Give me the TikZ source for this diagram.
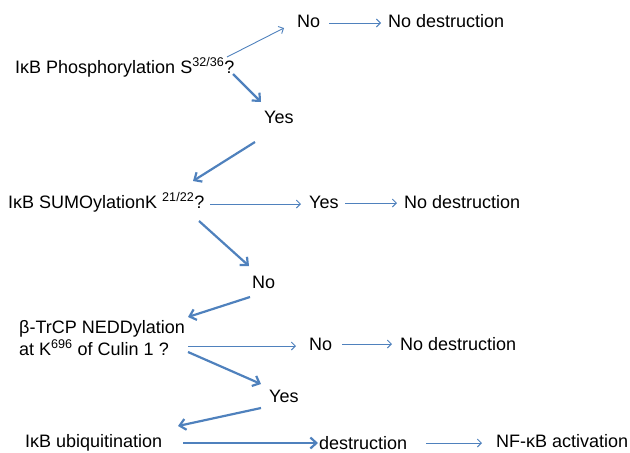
\documentclass[tikz,border=0pt]{standalone}
\usepackage{fontspec}
\setmainfont{Liberation Sans}
\usetikzlibrary{arrows.meta}
\definecolor{arrowblue}{RGB}{79,129,189}
\tikzset{
  lbl/.style={anchor=base west, inner sep=0pt, font=\fontsize{18}{21}\selectfont, text=black},
  thin/.style={draw=arrowblue, line width=0.9pt, -{Straight Barb[length=4pt,width=8pt]}},
  thick/.style={draw=arrowblue, line width=2.2pt, -{Straight Barb[length=6pt,width=11pt]}},
}
\begin{document}
\begin{tikzpicture}[x=1pt,y=-1pt]
\useasboundingbox (0,0) rectangle (630,453);
% labels
\node[lbl] (q1) at (15,73) {IκB Phosphorylation S\textsuperscript{32/36}?};
\node[lbl] (no1) at (297,27) {No};
\node[lbl] (nd1) at (388,27) {No destruction};
\node[lbl] (yes1) at (264,123) {Yes};
\node[lbl] (q2) at (8,208) {IκB SUMOylationK \textsuperscript{21/22}?};
\node[lbl] (yes2) at (309,208) {Yes};
\node[lbl] (nd2) at (404,208) {No destruction};
\node[lbl] (no2) at (252,288) {No};
\node[lbl] (q3a) at (19,333) {β-TrCP NEDDylation};
\node[lbl] (q3b) at (19,355) {at K\textsuperscript{696} of Culin 1 ?};
\node[lbl] (no3) at (309,350) {No};
\node[lbl] (nd3) at (400,350) {No destruction};
\node[lbl] (yes3) at (269,402) {Yes};
\node[lbl] (ub) at (25,447) {IκB ubiquitination};
\node[lbl] (de) at (319,449) {destruction};
\node[lbl] (nf) at (496,447) {NF-κB activation};
% connector end points
\coordinate (a1s) at (227,57);  \coordinate (a1e) at (284,28);
\coordinate (a2s) at (233,74);  \coordinate (a2e) at (261,102);
\coordinate (a3s) at (329,23);  \coordinate (a3e) at (381,23);
\coordinate (a4s) at (255,142); \coordinate (a4e) at (193,181);
\coordinate (a5s) at (210,204); \coordinate (a5e) at (301,204);
\coordinate (a6s) at (345,203); \coordinate (a6e) at (397,203);
\coordinate (a7s) at (199,221); \coordinate (a7e) at (249,266);
\coordinate (a8s) at (250,297); \coordinate (a8e) at (188,317);
\coordinate (a9s) at (188,346); \coordinate (a9e) at (296,346);
\coordinate (a10s) at (342,344); \coordinate (a10e) at (392,344);
\coordinate (a11s) at (188,352); \coordinate (a11e) at (261,384);
\coordinate (a12s) at (261,408); \coordinate (a12e) at (178,426);
\coordinate (a13s) at (183,443); \coordinate (a13e) at (318,443);
\coordinate (a14s) at (426,443); \coordinate (a14e) at (482,443);
% connectors
\draw[thin] (a1s) -- (a1e);
\draw[thick] (a2s) -- (a2e);
\draw[thin] (a3s) -- (a3e);
\draw[thick] (a4s) -- (a4e);
\draw[thin] (a5s) -- (a5e);
\draw[thin] (a6s) -- (a6e);
\draw[thick] (a7s) -- (a7e);
\draw[thick] (a8s) -- (a8e);
\draw[thin] (a9s) -- (a9e);
\draw[thin] (a10s) -- (a10e);
\draw[thick] (a11s) -- (a11e);
\draw[thick] (a12s) -- (a12e);
\draw[thick] (a13s) -- (a13e);
\draw[thin] (a14s) -- (a14e);
\end{tikzpicture}
\end{document}
